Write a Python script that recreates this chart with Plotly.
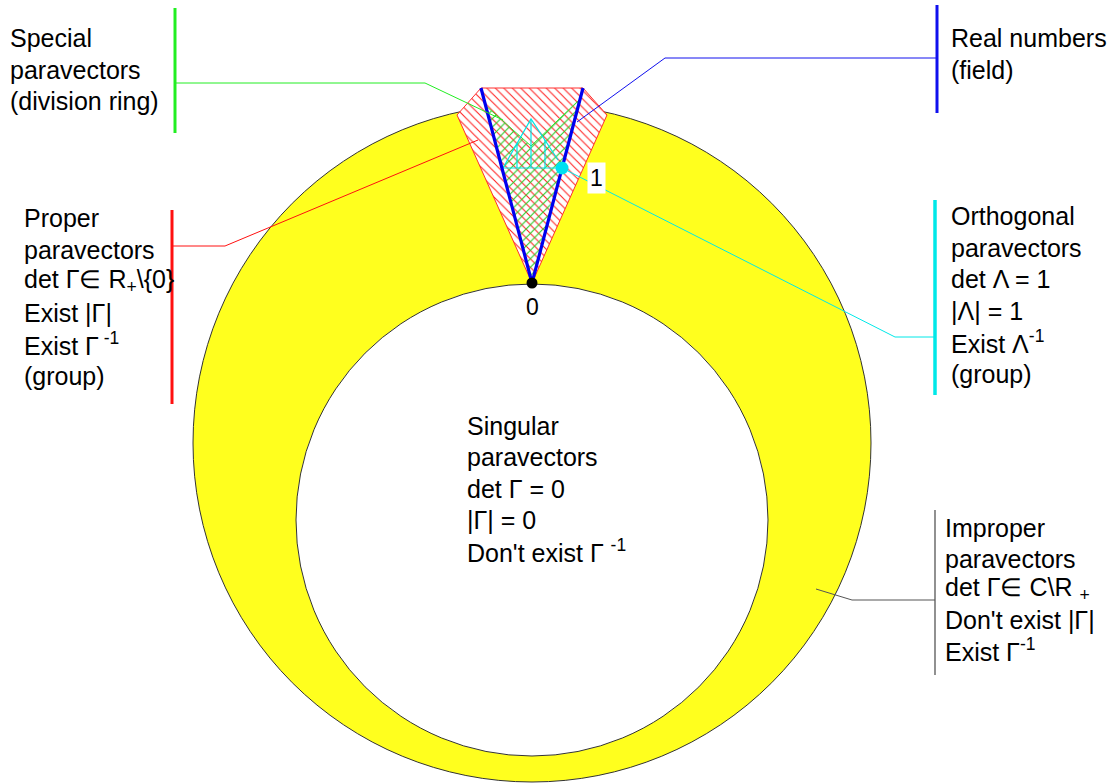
import plotly.graph_objects as go

# ---------------- geometry of the diagram (drawing units, y grows downward) -------------
outer_circle = [532, 443, 339]          # cx, cy, r  (improper paravectors, yellow)
inner_circle = [532, 520, 236]          # cx, cy, r  (singular paravectors, white)

proper_x = [532, 457, 481, 583, 607, 532]       # red hatched wedge
proper_y = [283, 115, 88, 88, 115, 283]
special_x = [532, 485, 531, 579, 532]           # green hatched wedge
special_y = [283, 105, 146, 100, 283]
real_x = [481, 532, 583]                        # blue lines (real numbers)
real_y = [88, 283, 88]

orth_x = [503, 531, 558, None, 503, 562, None, 517, 517, None, 531, 531, None, 545, 545]
orth_y = [168, 119, 160, None, 168, 168, None, 143, 168, None, 119, 168, None, 140, 168]

zero_pt = [532, 283]
one_pt = [562, 168]

# leader lines
lead_special_x, lead_special_y = [175, 425, 503], [83, 83, 120]
lead_real_x, lead_real_y = [937, 665, 577], [58, 58, 122]
lead_proper_x, lead_proper_y = [172, 225, 478], [246, 246, 140]
lead_orth_x, lead_orth_y = [935, 895, 562], [337, 337, 168]
lead_improper_x, lead_improper_y = [935, 852, 816], [600, 600, 589]

bar_special = [175, 8, 133]
bar_real = [937, 5, 113]
bar_proper = [172, 210, 404]
bar_orth = [935, 200, 395]
bar_improper = [935, 510, 675]

# ---------------- text ----------------
special_lines = ["Special", "paravectors", "(division ring)"]
real_lines = ["Real numbers", "(field)"]
proper_lines = ["Proper", "paravectors", "det Γ∈ R<sub>+</sub>\\{0}", "Exist |Γ|",
                "Exist Γ<sup> -1</sup>", "(group)"]
orth_lines = ["Orthogonal", "paravectors", "det Λ = 1", "|Λ| = 1",
              "Exist Λ<sup>-1</sup>", "(group)"]
singular_lines = ["Singular", "paravectors", "det Γ = 0", "|Γ| = 0",
                  "Don't exist Γ <sup>-1</sup>"]
improper_lines = ["Improper", "paravectors", "det Γ∈ C\\R <sub>+</sub>",
                  "Don't exist |Γ|", "Exist Γ<sup>-1</sup>"]

# block: lines, x-left, first baseline, line step
text_blocks = [
    (special_lines, 8, 47, 31.5),
    (real_lines, 949, 47, 31.5),
    (proper_lines, 22, 227, 31.5),
    (orth_lines, 949, 225, 31.5),
    (singular_lines, 465, 435, 31.3),
    (improper_lines, 943, 537, 30.5),
]

FONT = "Liberation Sans, Arial, sans-serif"
FS = 25

fig = go.Figure()

shapes = []
for (cx, cy, r), fill in [(outer_circle, "#FFFF1E"), (inner_circle, "white")]:
    shapes.append(dict(type="circle", xref="x", yref="y", x0=cx - r, x1=cx + r,
                       y0=cy - r, y1=cy + r, fillcolor=fill,
                       line=dict(color="#333333", width=1), layer="below"))

fig.add_trace(go.Scatter(x=proper_x, y=proper_y, mode="lines", fill="toself",
                         fillcolor="white",
                         fillpattern=dict(shape="\\", fgcolor="#FF2020", bgcolor="white",
                                          size=6, solidity=0.18, fillmode="replace"),
                         line=dict(color="#FF3030", width=1), hoverinfo="skip"))
fig.add_trace(go.Scatter(x=special_x, y=special_y, mode="lines", fill="toself",
                         fillcolor="rgba(0,0,0,0)",
                         fillpattern=dict(shape="/", fgcolor="#22CC22",
                                          bgcolor="rgba(0,0,0,0)",
                                          size=6, solidity=0.18, fillmode="replace"),
                         line=dict(color="#30E030", width=1), hoverinfo="skip"))
fig.add_trace(go.Scatter(x=orth_x, y=orth_y, mode="lines",
                         line=dict(color="#00E5E5", width=1.2), hoverinfo="skip"))
fig.add_trace(go.Scatter(x=real_x, y=real_y, mode="lines",
                         line=dict(color="#0000EE", width=3.2), hoverinfo="skip"))

leaders = [
    (lead_special_x, lead_special_y, "#22EE22", bar_special, 3),
    (lead_real_x, lead_real_y, "#1010EE", bar_real, 3),
    (lead_proper_x, lead_proper_y, "#FF1010", bar_proper, 3),
    (lead_orth_x, lead_orth_y, "#00E8E8", bar_orth, 3.5),
    (lead_improper_x, lead_improper_y, "#555555", bar_improper, 1.3),
]
for lx, ly, col, bar, bw in leaders:
    fig.add_trace(go.Scatter(x=lx, y=ly, mode="lines",
                             line=dict(color=col, width=1), hoverinfo="skip"))
    fig.add_trace(go.Scatter(x=[bar[0], bar[0]], y=[bar[1], bar[2]], mode="lines",
                             line=dict(color=col, width=bw), hoverinfo="skip"))

fig.add_trace(go.Scatter(x=[zero_pt[0]], y=[zero_pt[1]], mode="markers",
                         marker=dict(color="black", size=11), hoverinfo="skip"))
fig.add_trace(go.Scatter(x=[one_pt[0]], y=[one_pt[1]], mode="markers",
                         marker=dict(color="#00E0F0", size=13), hoverinfo="skip"))

annotations = []
for lines, x0, base0, step in text_blocks:
    for i, t in enumerate(lines):
        annotations.append(dict(x=x0, y=base0 + i * step - 9, xref="x", yref="y",
                                text=t, showarrow=False, xanchor="left",
                                yanchor="middle",
                                font=dict(family=FONT, size=FS, color="black")))
annotations.append(dict(x=zero_pt[0], y=zero_pt[1] + 24, xref="x", yref="y", text="0",
                        showarrow=False, xanchor="center", yanchor="middle",
                        font=dict(family=FONT, size=23, color="black")))
annotations.append(dict(x=596, y=178, xref="x", yref="y", text="1",
                        showarrow=False, xanchor="center", yanchor="middle",
                        bgcolor="white", borderpad=2,
                        font=dict(family=FONT, size=23, color="black")))

fig.update_layout(
    width=1112, height=784, autosize=False,
    margin=dict(l=0, r=0, t=0, b=0),
    paper_bgcolor="white", plot_bgcolor="white",
    showlegend=False,
    shapes=shapes, annotations=annotations,
    xaxis=dict(range=[0, 1112], visible=False, fixedrange=True),
    yaxis=dict(range=[784, 0], visible=False, fixedrange=True),
)

fig.write_html("out.html",
               config={"displayModeBar": False},
               post_script="document.body.style.margin='0px';"
                           "document.body.style.overflow='hidden';")
